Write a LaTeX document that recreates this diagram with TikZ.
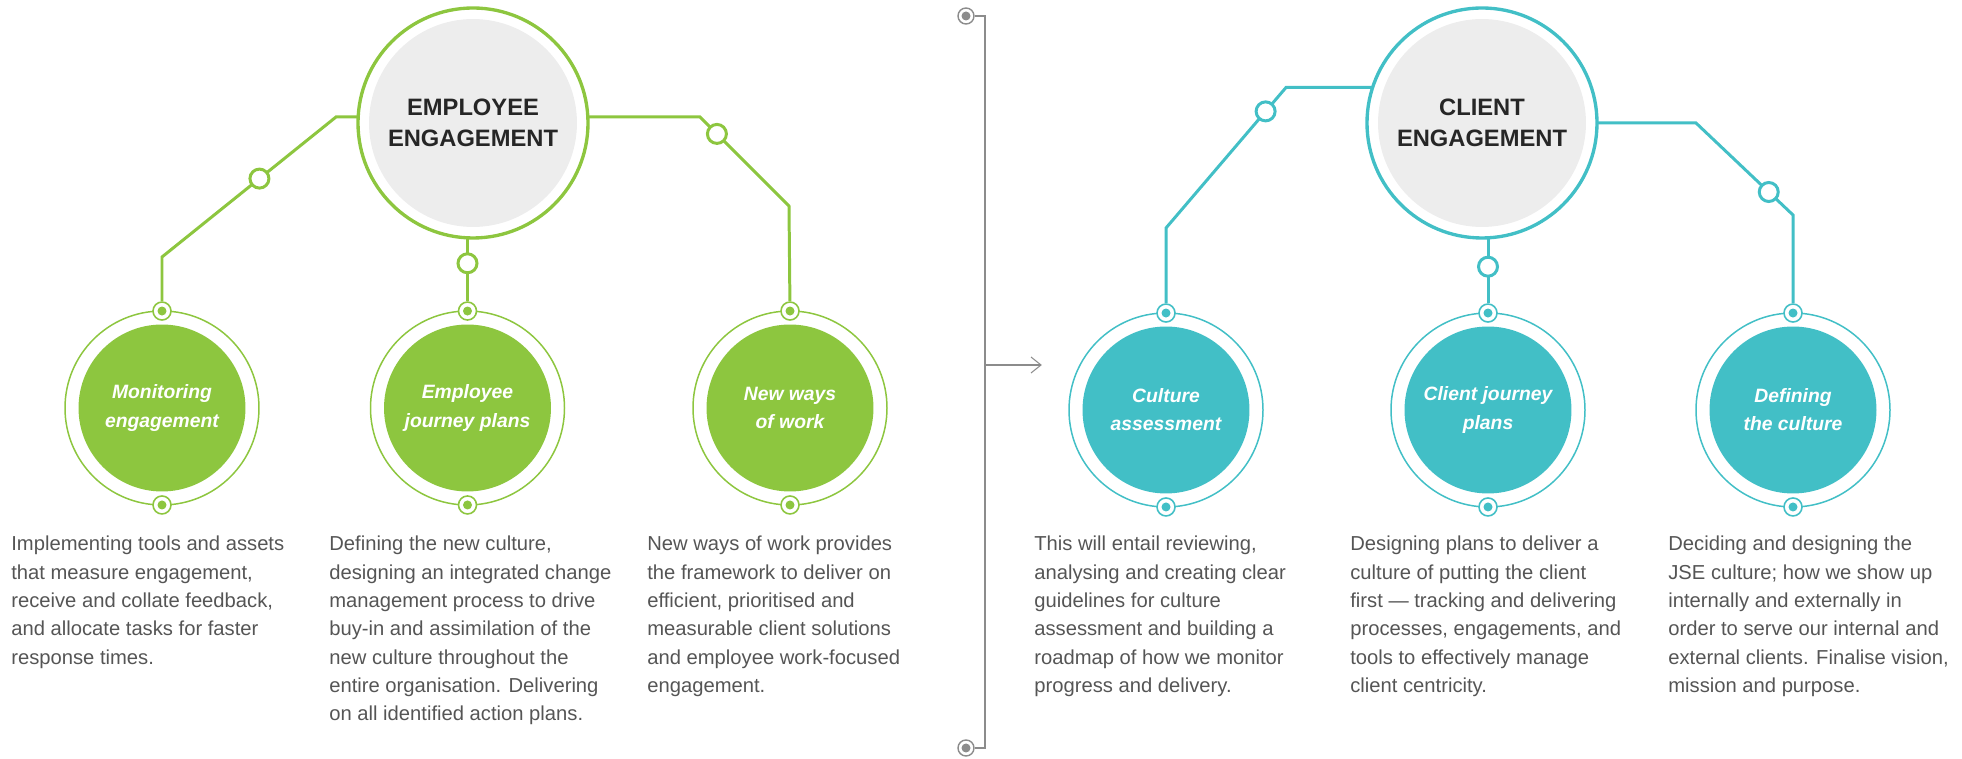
\documentclass[tikz,border=0pt]{standalone}
\usepackage{fontspec}
\setmainfont{Liberation Sans}
\definecolor{leaf}{HTML}{8DC63F}
\definecolor{sea}{HTML}{42BFC6}
\definecolor{hubgrey}{HTML}{EDEDED}
\definecolor{bodytext}{HTML}{555555}
\definecolor{sepgrey}{HTML}{8C8C8C}

\begin{document}
\begin{tikzpicture}[x=0.02cm, y=0.02cm,
  hub/.style={circle, fill=hubgrey, minimum size=4.16cm, inner sep=0pt, outer sep=0.22cm,
    align=center, text=black!85, font=\fontsize{13.5}{18}\selectfont\bfseries},
  hubring/.style={draw=#1, line width=1.9pt},
  bubble/.style={circle, fill=#1, minimum size=3.34cm, inner sep=0pt, outer sep=0.27cm,
    align=center, text=white, font=\fontsize{11}{16}\selectfont\bfseries\itshape},
  bubblering/.style={draw=#1, line width=0.85pt},
  port/.style={circle, draw=#1, fill=white, line width=0.9pt, minimum size=0.36cm, inner sep=0pt},
  knot/.style={circle, draw=#1, fill=white, line width=1.7pt, minimum size=0.38cm, inner sep=0pt},
  wire/.style={draw=#1, line width=1.7pt},
  desc/.style={anchor=north west, align=left, inner sep=0pt, text=bodytext,
    font=\fontsize{11.5}{16.1}\selectfont},
  sepline/.style={draw=sepgrey, line width=0.6pt},
  sepdot/.style={circle, draw=sepgrey, fill=white, line width=0.8pt, minimum size=0.32cm, inner sep=0pt}]
\useasboundingbox (0,0) rectangle (1962,-759);

% employee engagement
\node[hub] (emp) at (473,-123) {EMPLOYEE\\ENGAGEMENT};
\draw[hubring=leaf] (emp.center) circle (115);

\node[bubble=leaf] (mon) at (162,-408) {Monitoring\\engagement};
\node[bubble=leaf] (ejp) at (467.5,-408) {Employee\\journey plans};
\node[bubble=leaf] (nww) at (790,-408) {New ways\\of work};
\draw[bubblering=leaf] (mon.center) circle (97);
\draw[bubblering=leaf] (ejp.center) circle (97);
\draw[bubblering=leaf] (nww.center) circle (97);

\node[port=leaf] (mon-t) at (mon.north) {};
\node[port=leaf] (mon-b) at (mon.south) {};
\node[port=leaf] (ejp-t) at (ejp.north) {};
\node[port=leaf] (ejp-b) at (ejp.south) {};
\node[port=leaf] (nww-t) at (nww.north) {};
\node[port=leaf] (nww-b) at (nww.south) {};

\coordinate (mon-bend1) at (336,-117);
\coordinate (mon-bend2) at (162,-257);
\coordinate (nww-bend1) at (700,-117);
\coordinate (nww-bend2) at (789,-206);
\draw[wire=leaf] (emp.177) -- (mon-bend1) -- node[knot=leaf, pos=.44] (k-mon) {} (mon-bend2) -- (mon-t);
\draw[wire=leaf] (emp.south -| ejp-t) -- node[knot=leaf, pos=.4] (k-ejp) {} (ejp-t);
\draw[wire=leaf] (emp.3) -- (nww-bend1) -- node[knot=leaf, pos=.19] (k-nww) {} (nww-bend2) -- (nww-t);

% client engagement
\node[hub] (cli) at (1482,-123) {CLIENT\\ENGAGEMENT};
\draw[hubring=sea] (cli.center) circle (115);

\node[bubble=sea] (cas) at (1166,-410) {Culture\\assessment};
\node[bubble=sea] (cjp) at (1488,-410) {Client journey\\plans};
\node[bubble=sea] (def) at (1793,-410) {Defining\\the culture};
\draw[bubblering=sea] (cas.center) circle (97);
\draw[bubblering=sea] (cjp.center) circle (97);
\draw[bubblering=sea] (def.center) circle (97);

\node[port=sea] (cas-t) at (cas.north) {};
\node[port=sea] (cas-b) at (cas.south) {};
\node[port=sea] (cjp-t) at (cjp.north) {};
\node[port=sea] (cjp-b) at (cjp.south) {};
\node[port=sea] (def-t) at (def.north) {};
\node[port=sea] (def-b) at (def.south) {};

\coordinate (cas-bend1) at (1286,-87.5);
\coordinate (cas-bend2) at (1166,-228);
\coordinate (def-bend1) at (1696,-123);
\coordinate (def-bend2) at (1793,-215);
\draw[wire=sea] (cli.162) -- (cas-bend1) -- node[knot=sea, pos=.17] (k-cas) {} (cas-bend2) -- (cas-t);
\draw[wire=sea] (cli.south -| cjp-t) -- node[knot=sea, pos=.44] (k-cjp) {} (cjp-t);
\draw[wire=sea] (cli.east) -- (def-bend1) -- node[knot=sea, pos=.75] (k-def) {} (def-bend2) -- (def-t);

\foreach \p in {mon-t,mon-b,ejp-t,ejp-b,nww-t,nww-b}
  \fill[leaf] (\p) circle (4.5);
\foreach \p in {cas-t,cas-b,cjp-t,cjp-b,def-t,def-b}
  \fill[sea] (\p) circle (4.5);

% separator
\node[sepdot] (sep-top) at (966,-16) {};
\node[sepdot] (sep-bot) at (966,-748) {};
\fill[sepgrey] (sep-top) circle (4.5);
\fill[sepgrey] (sep-bot) circle (4.5);
\coordinate (sep-a) at (985,-16);
\coordinate (sep-b) at (985,-748);
\coordinate (sep-arrow) at (1041,-365);
\draw[sepline] (sep-top) -- (sep-a) -- (sep-b) -- (sep-bot);
\draw[sepline] (sep-a |- sep-arrow) -- (sep-arrow);
\draw[sepline] (1031,-357) -- (sep-arrow) -- (1031,-373);

% descriptions
\node[desc] (mon-d) at (11,-536) {Implementing tools and assets\\that measure engagement,\\receive and collate feedback,\\and allocate tasks for faster\\response times.};
\node[desc] (ejp-d) at (329,-536) {Defining the new culture,\\designing an integrated change\\management process to drive\\buy-in and assimilation of the\\new culture throughout the\\entire organisation. Delivering\\on all identified action plans.};
\node[desc] (nww-d) at (647,-536) {New ways of work provides\\the framework to deliver on\\efficient, prioritised and\\measurable client solutions\\and employee work-focused\\engagement.};
\node[desc] (cas-d) at (1034,-536) {This will entail reviewing,\\analysing and creating clear\\guidelines for culture\\assessment and building a\\roadmap of how we monitor\\progress and delivery.};
\node[desc] (cjp-d) at (1350,-536) {Designing plans to deliver a\\culture of putting the client\\first — tracking and delivering\\processes, engagements, and\\tools to effectively manage\\client centricity.};
\node[desc] (def-d) at (1668,-536) {Deciding and designing the\\JSE culture; how we show up\\internally and externally in\\order to serve our internal and\\external clients. Finalise vision,\\mission and purpose.};
\end{tikzpicture}
\end{document}
